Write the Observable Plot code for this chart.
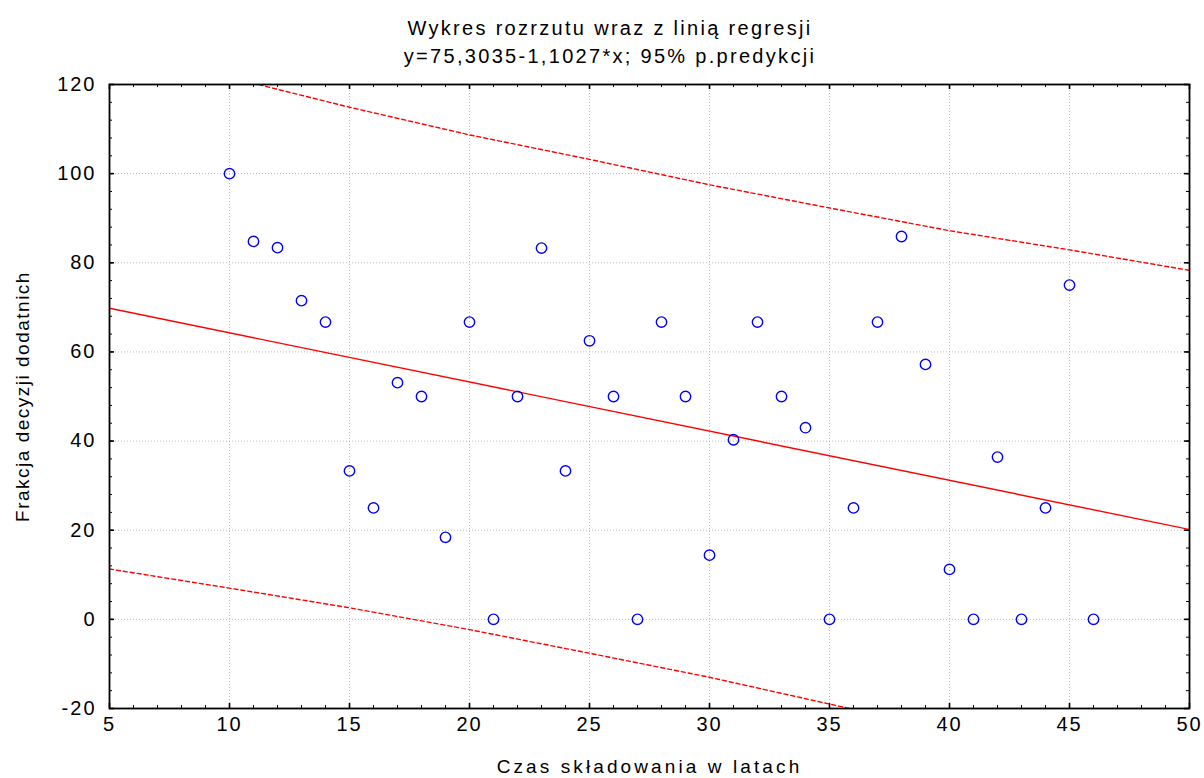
<!DOCTYPE html>
<html><head><meta charset="utf-8">
<script src="https://cdn.jsdelivr.net/npm/d3@7"></script>
<script src="https://cdn.jsdelivr.net/npm/@observablehq/plot@0.6"></script>
<style>
body{margin:0;background:#fff;overflow:hidden;font-family:"Liberation Sans",Arial,sans-serif;}
#title{width:1204px;height:70px;box-sizing:border-box;padding-top:14px;padding-left:16px;text-align:center;font-size:20px;line-height:28px;letter-spacing:2.3px;color:#000;}
#chart svg{display:block;}
</style></head><body>
<div id="title"><div>Wykres rozrzutu wraz z linią regresji</div><div>y=75,3035-1,1027*x; 95% p.predykcji</div></div>
<div id="chart"></div>
<script>
// Observed points
const storageYears = [10,11,12,13,14,15,16,17,18,19,20,21,22,23,24,25,26,27,28,29,30,31,32,33,34,35,36,37,38,39,40,41,42,43,44,45,46];
const positiveFraction = [100,84.8,83.4,71.5,66.7,33.3,25,53.1,50,18.4,66.7,0,50,83.3,33.3,62.5,50,0,66.7,50,14.4,40.3,66.7,50,43,0,25,66.7,85.9,57.2,11.2,0,36.4,0,25,75,0];

// Regression line (read at the ends of the x range)
const regX = [5, 50];
const regY = [69.79, 20.17];

// 95% prediction band
const bandX = [5,10,15,20,25,30,35,40,45,50];
const bandUpper = [128.3,121.6,114.9,108.7,103.2,97.5,92.3,87.2,82.9,78.3];
const bandLower = [11.3,7.0,2.6,-2.3,-7.6,-13.0,-19.0,-25.0,-30.6,-36.0];

// Axis ticks
const xTicks = [5,10,15,20,25,30,35,40,45,50];
const yTicks = [-20,0,20,40,60,80,100,120];
const xMinor = d3.range(5, 51, 1);
const yMinor = d3.range(-20, 121, 4);
const xGrid = [10,15,20,25,30,35,40,45];
const yGrid = [0,20,40,60,80,100];

const xLabel = "Czas składowania w latach";
const yLabel = "Frakcja decyzji dodatnich";

const W = 1204, H = 708, mL = 109, mR = 15, mT = 14, mB = 70;
const fw = W - mL - mR, fh = H - mT - mB;

const points = storageYears.map((x, i) => ({x, y: positiveFraction[i]}));
const reg = regX.map((x, i) => ({x, y: regY[i]}));
const upper = bandX.map((x, i) => ({x, y: bandUpper[i]}));
const lower = bandX.map((x, i) => ({x, y: bandLower[i]}));

const grid = {stroke: "#bcbcbc", strokeDasharray: "1,2", strokeWidth: 1};
const red = "#ff0000";

const chart = Plot.plot({
  width: W, height: H,
  marginLeft: mL, marginRight: mR, marginTop: mT, marginBottom: mB,
  x: {domain: [5, 50], axis: null},
  y: {domain: [-20, 120], axis: null},
  style: {fontFamily: "'Liberation Sans', Arial, sans-serif", background: "#fff", color: "#000", letterSpacing: "2px"},
  marks: [
    Plot.ruleX(xGrid, {x: d => d, ...grid}),
    Plot.ruleY(yGrid, {y: d => d, ...grid}),
    // minor ticks (inward) on all four sides
    Plot.tickX(xMinor, {x: d => d, insetTop: fh - 3, stroke: "#000"}),
    Plot.tickX(xMinor, {x: d => d, insetBottom: fh - 3, stroke: "#000"}),
    Plot.tickY(yMinor, {y: d => d, insetRight: fw - 3, stroke: "#000"}),
    Plot.tickY(yMinor, {y: d => d, insetLeft: fw - 3, stroke: "#000"}),
    // major ticks
    Plot.tickX(xTicks, {x: d => d, insetTop: fh - 5, stroke: "#000", strokeWidth: 1.6}),
    Plot.tickX(xTicks, {x: d => d, insetBottom: fh - 5, stroke: "#000", strokeWidth: 1.6}),
    Plot.tickY(yTicks, {y: d => d, insetRight: fw - 5, stroke: "#000", strokeWidth: 1.6}),
    Plot.tickY(yTicks, {y: d => d, insetLeft: fw - 5, stroke: "#000", strokeWidth: 1.6}),
    // prediction band and regression line
    Plot.line(upper, {x: "x", y: "y", stroke: red, strokeWidth: 1.4, strokeDasharray: "4,3", clip: true}),
    Plot.line(lower, {x: "x", y: "y", stroke: red, strokeWidth: 1.4, strokeDasharray: "4,3", clip: true}),
    Plot.line(reg, {x: "x", y: "y", stroke: red, strokeWidth: 1.4, clip: true}),
    // points
    Plot.dot(points, {x: "x", y: "y", r: 5.2, stroke: "#0000ff", strokeWidth: 1.4, fill: "none"}),
    // tick labels
    Plot.text(xTicks, {x: d => d, frameAnchor: "bottom", dy: 22, fontSize: 20, text: d => String(d)}),
    Plot.text(yTicks, {y: d => d, frameAnchor: "left", dx: -13, textAnchor: "end", fontSize: 20, text: d => String(d)}),
    // axis labels
    Plot.text([xLabel], {frameAnchor: "bottom", dy: 64, textAnchor: "middle", fontSize: 19, text: d => d}),
    Plot.text([yLabel], {frameAnchor: "left", dx: -87, rotate: -90, textAnchor: "middle", fontSize: 19, text: d => d}),
    Plot.frame({stroke: "#000", strokeWidth: 1.8})
  ]
});
document.getElementById("chart").appendChild(chart);
d3.select(chart).selectAll("text").each(function() {
  const t = this.textContent;
  if (t === xLabel) this.style.letterSpacing = "3.1px";
  if (t === yLabel) this.style.letterSpacing = "1.5px";
});
</script>
</body></html>
